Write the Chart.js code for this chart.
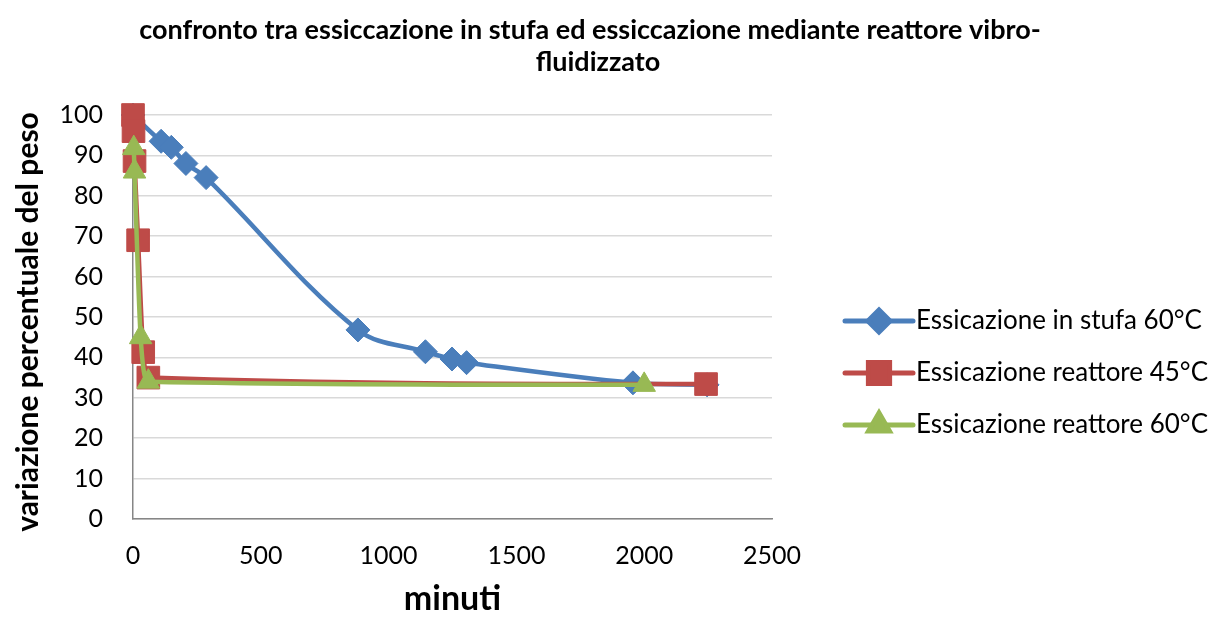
<!DOCTYPE html>
<html>
<head>
<meta charset="utf-8">
<script src="https://cdn.jsdelivr.net/npm/chart.js@4.4.0/dist/chart.umd.min.js"></script>
<style>
html,body{margin:0;padding:0;background:#fff;}
#wrap{width:1219px;height:619px;position:relative;}
</style>
</head>
<body>
<div id="wrap"><canvas id="c" width="1219" height="619"></canvas></div>
<script>
// ---- data ----
const titleLines = ["confronto tra essiccazione in stufa ed essiccazione mediante reattore vibro-", "fluidizzato"];
const xTitle = "minuti";
const yTitle = "variazione percentuale del peso";
const seriesNames = ["Essicazione in stufa 60°C", "Essicazione reattore 45°C", "Essicazione reattore 60°C"];

const stufaX = [0, 110, 150, 207, 286, 880, 1144, 1248, 1305, 1956, 2246];
const stufaY = [100, 93.5, 92, 88, 84.5, 46.8, 41.4, 39.6, 38.7, 33.7, 33.2];

const reattore45X = [0, 2, 6, 20, 40, 60, 2242];
const reattore45Y = [100, 96, 88.6, 69, 41.3, 35, 33.4];

const reattore60X = [3, 6, 30, 60, 2000];
const reattore60Y = [91.8, 86, 45, 34, 33.2];

const xTicks = [0, 500, 1000, 1500, 2000, 2500];
const yTicks = [0, 10, 20, 30, 40, 50, 60, 70, 80, 90, 100];

const colors = ["#4A7EBB", "#BE4B48", "#98B954"];
const styles = ["rectRot", "rect", "triangle"];
const radii = [12, 16, 13];

function pts(xs, ys){ return xs.map((x,i)=>({x:x, y:ys[i]})); }

const FONT = "Lato, 'Open Sans', sans-serif";

const datasets = [
  {label: seriesNames[0], data: pts(stufaX, stufaY), order: 2, tension: 0.35},
  {label: seriesNames[1], data: pts(reattore45X, reattore45Y), order: 1, cubicInterpolationMode: 'monotone'},
  {label: seriesNames[2], data: pts(reattore60X, reattore60Y), order: 0, cubicInterpolationMode: 'monotone'}
].map((d,i)=>Object.assign({
  borderColor: colors[i], backgroundColor: colors[i],
  pointBackgroundColor: colors[i], pointBorderColor: colors[i],
  pointStyle: styles[i], pointRadius: radii[i], pointHoverRadius: radii[i],
  pointBorderWidth: 1, borderWidth: 4.5, clip: false,
  borderCapStyle: 'round', borderJoinStyle: 'round'
}, d));

const customDraw = {
  id: 'customDraw',
  afterDraw(chart){
    const ctx = chart.ctx;
    ctx.save();
    // title
    ctx.fillStyle = '#000';
    ctx.font = "bold 27px " + FONT;
    ctx.textAlign = 'center';
    ctx.textBaseline = 'middle';
    ctx.fillText(titleLines[0], 590, 30);
    ctx.fillText(titleLines[1], 598, 62);
    // y title
    ctx.save();
    ctx.translate(28, 322);
    ctx.rotate(-Math.PI/2);
    ctx.font = "bold 30px " + FONT;
    ctx.fillText(yTitle, 0, 0);
    ctx.restore();
    // legend
    const rows = [321, 373, 425];
    chart.data.datasets.forEach((ds, i)=>{
      const y = rows[i];
      ctx.strokeStyle = colors[i];
      ctx.lineWidth = 5;
      ctx.lineCap = 'round';
      ctx.beginPath(); ctx.moveTo(845, y); ctx.lineTo(913, y); ctx.stroke();
      ctx.fillStyle = colors[i];
      Chart.helpers.drawPoint(ctx, {pointStyle: styles[i], radius: radii[i] - 1, rotation: 0, borderWidth: 1}, 879, y);
      ctx.fillStyle = '#000';
      ctx.font = "26px " + FONT;
      ctx.textAlign = 'left';
      ctx.textBaseline = 'middle';
      ctx.fillText(ds.label, 916, y);
    });
    ctx.restore();
  }
};

new Chart(document.getElementById('c'), {
  type: 'line',
  data: {datasets},
  plugins: [customDraw],
  options: {
    responsive: false,
    animation: false,
    events: [],
    layout: {padding: {top: 115, left: 0, right: 447, bottom: 0}},
    plugins: {legend: {display: false}, title: {display: false}, tooltip: {enabled: false}},
    scales: {
      x: {
        type: 'linear', min: 0, max: 2500,
        afterBuildTicks(s){ s.ticks = xTicks.map(v=>({value:v})); },
        afterFit(s){ s.height = 100; },
        grid: {display: false, drawTicks: false},
        border: {display: true, color: '#868686', width: 1.5},
        ticks: {color: '#000', font: {family: FONT, size: 25}, padding: 22, maxRotation: 0, autoSkip: false,
                callback: v => String(v)},
        title: {display: true, text: xTitle, color: '#000', font: {family: FONT, size: 34, weight: 'bold'}, padding: {top: 0, bottom: 0}}
      },
      y: {
        type: 'linear', min: 0, max: 100,
        afterBuildTicks(s){ s.ticks = yTicks.map(v=>({value:v})); },
        afterFit(s){ s.width = 133; },
        grid: {color: '#D9D9D9', lineWidth: 1.5, drawTicks: false},
        border: {display: true, color: '#868686', width: 1.5},
        ticks: {color: '#000', font: {family: FONT, size: 25}, padding: 30, autoSkip: false,
                callback: v => String(v)}
      }
    }
  }
});
</script>
</body>
</html>
